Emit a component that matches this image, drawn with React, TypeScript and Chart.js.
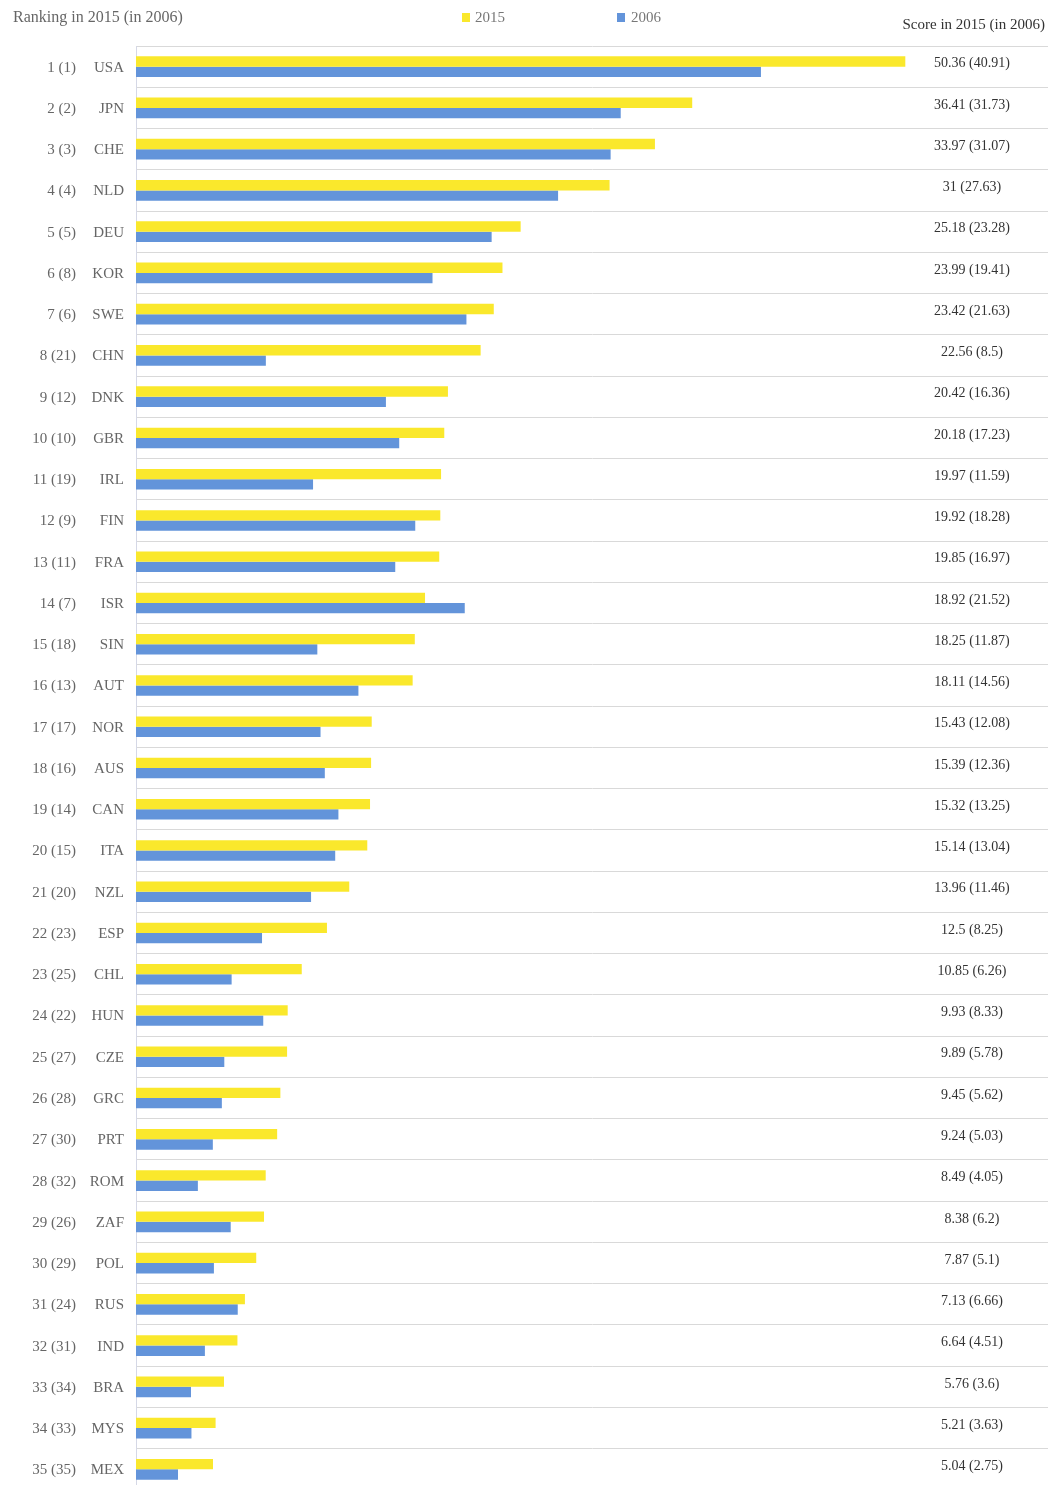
import React, { useEffect, useRef } from "react";
import { Chart, registerables } from "chart.js";

Chart.register(...registerables);

const countries = ["USA","JPN","CHE","NLD","DEU","KOR","SWE","CHN","DNK","GBR","IRL","FIN","FRA","ISR","SIN","AUT","NOR","AUS","CAN","ITA","NZL","ESP","CHL","HUN","CZE","GRC","PRT","ROM","ZAF","POL","RUS","IND","BRA","MYS","MEX"];
const rank2015 = [1,2,3,4,5,6,7,8,9,10,11,12,13,14,15,16,17,18,19,20,21,22,23,24,25,26,27,28,29,30,31,32,33,34,35];
const rank2006 = [1,2,3,4,5,8,6,21,12,10,19,9,11,7,18,13,17,16,14,15,20,23,25,22,27,28,30,32,26,29,24,31,34,33,35];
const score2015 = [50.36,36.41,33.97,31,25.18,23.99,23.42,22.56,20.42,20.18,19.97,19.92,19.85,18.92,18.25,18.11,15.43,15.39,15.32,15.14,13.96,12.5,10.85,9.93,9.89,9.45,9.24,8.49,8.38,7.87,7.13,6.64,5.76,5.21,5.04];
const score2006 = [40.91,31.73,31.07,27.63,23.28,19.41,21.63,8.5,16.36,17.23,11.59,18.28,16.97,21.52,11.87,14.56,12.08,12.36,13.25,13.04,11.46,8.25,6.26,8.33,5.78,5.62,5.03,4.05,6.2,5.1,6.66,4.51,3.6,3.63,2.75];
const seriesNames = ["2015", "2006"];
const headerLeft = "Ranking in 2015 (in 2006)";
const headerRight = "Score in 2015 (in 2006)";

const YELLOW = "#FAE82C";
const BLUE = "#6394DA";
const SERIF = "'Liberation Serif', 'DejaVu Serif', serif";

const textPlugin = {
  id: "textPlugin",
  afterDraw(chart: any) {
    const ctx = chart.ctx as CanvasRenderingContext2D;
    const y = chart.scales.y;
    ctx.save();
    ctx.textBaseline = "middle";
    // header
    ctx.font = `16px ${SERIF}`;
    ctx.fillStyle = "#666";
    ctx.textAlign = "left";
    ctx.fillText(headerLeft, 13, 18);
    // legend
    ctx.font = `15px ${SERIF}`;
    ctx.fillStyle = YELLOW;
    ctx.fillRect(462, 13, 8, 9);
    ctx.fillStyle = "#777";
    ctx.fillText(seriesNames[0], 475, 18);
    ctx.fillStyle = BLUE;
    ctx.fillRect(617, 13, 8, 9);
    ctx.fillStyle = "#777";
    ctx.fillText(seriesNames[1], 631, 18);
    ctx.fillStyle = "#333";
    ctx.textAlign = "right";
    ctx.fillText(headerRight, 1045, 25);

    countries.forEach((c, i) => {
      const cy = y.getPixelForValue(i);
      ctx.font = `15px ${SERIF}`;
      ctx.fillStyle = "#666";
      ctx.textAlign = "right";
      ctx.fillText(`${rank2015[i]} (${rank2006[i]})`, 76, cy + 1);
      ctx.fillText(c, 124, cy + 1);
      ctx.font = `14px ${SERIF}`;
      ctx.fillStyle = "#333";
      ctx.textAlign = "center";
      ctx.fillText(`${score2015[i]} (${score2006[i]})`, 972, cy - 3);
    });
    ctx.restore();
  },
};

export default function App() {
  const ref = useRef<HTMLCanvasElement | null>(null);
  useEffect(() => {
    if (!ref.current) return;
    const chart = new Chart(ref.current, {
      type: "bar",
      data: {
        labels: countries,
        datasets: [
          { label: seriesNames[0], data: score2015, backgroundColor: YELLOW, barPercentage: 1, categoryPercentage: 0.5 },
          { label: seriesNames[1], data: score2006, backgroundColor: BLUE, barPercentage: 1, categoryPercentage: 0.5 },
        ],
      },
      options: {
        indexAxis: "y",
        responsive: false,
        animation: false,
        layout: { padding: { left: 136, top: 46, right: 0, bottom: 1 } },
        plugins: { legend: { display: false }, tooltip: { enabled: false } },
        scales: {
          x: { display: false, min: 0, max: 59.7 },
          y: {
            ticks: { display: false },
            grid: { color: "#d9d9d9", drawTicks: false, offset: true },
            border: { color: "#d5d8e6" },
          },
        },
      },
      plugins: [textPlugin],
    });
    return () => chart.destroy();
  }, []);
  return (
    <div style={{ position: "absolute", left: 0, top: 0, width: 1048, height: 1491, background: "#fff" }}>
      <canvas ref={ref} width={1048} height={1491} style={{ width: 1048, height: 1491, display: "block" }} />
    </div>
  );
}
